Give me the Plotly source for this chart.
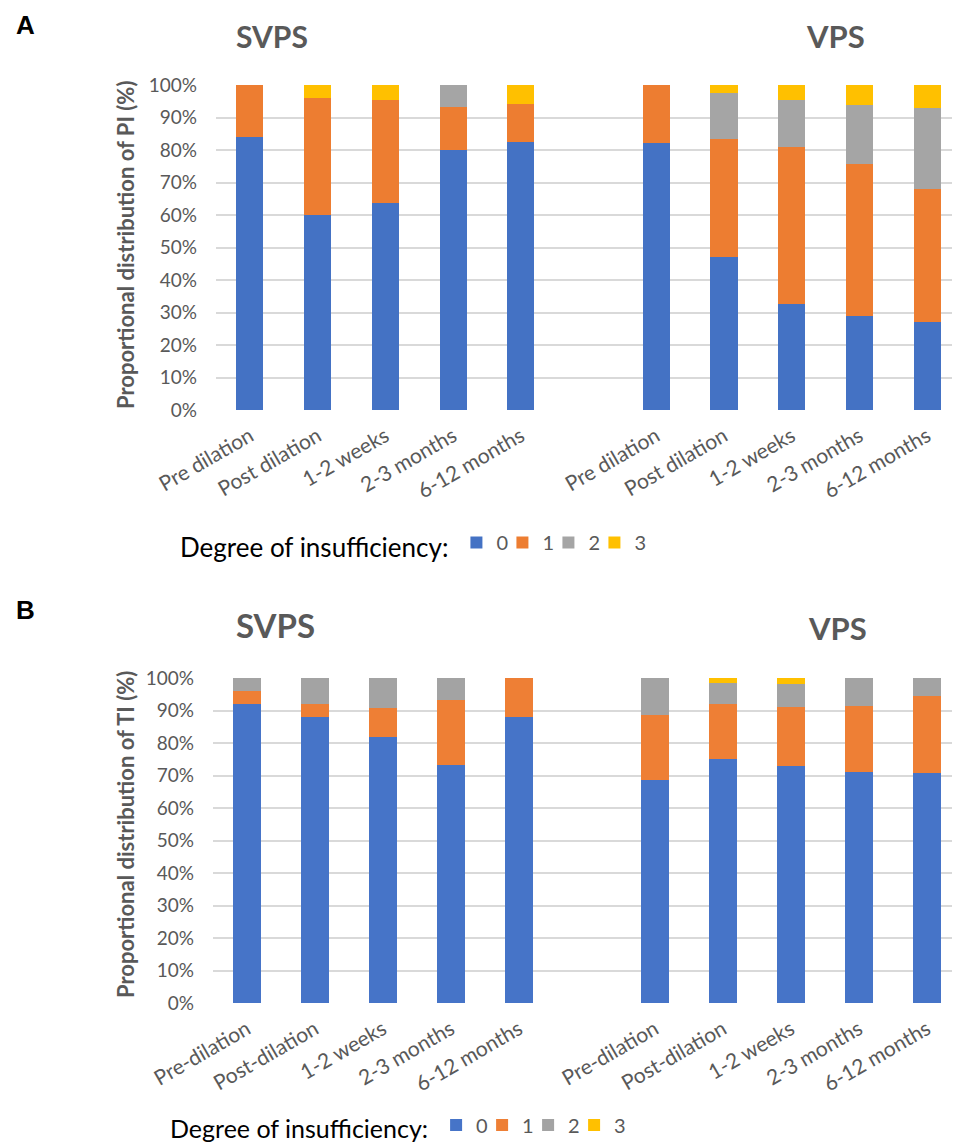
import plotly.graph_objects as go

# ---------------- data ----------------
stages_A = ["Pre dilation", "Post dilation", "1-2 weeks", "2-3 months", "6-12 months"]
stages_B = ["Pre-dilation", "Post-dilation", "1-2 weeks", "2-3 months", "6-12 months"]
degrees = ["0", "1", "2", "3"]

# Panel A: pulmonary insufficiency (%), SVPS and VPS
pi_svps_0 = [84.0, 60.0, 63.6, 80.0, 82.4]
pi_svps_1 = [16.0, 36.0, 31.9, 13.3, 11.8]
pi_svps_2 = [0.0, 0.0, 0.0, 6.7, 0.0]
pi_svps_3 = [0.0, 4.0, 4.5, 0.0, 5.8]

pi_vps_0 = [82.3, 47.0, 32.5, 28.8, 27.0]
pi_vps_1 = [17.7, 36.3, 48.5, 46.8, 41.0]
pi_vps_2 = [0.0, 14.1, 14.5, 18.4, 25.0]
pi_vps_3 = [0.0, 2.6, 4.5, 6.0, 7.0]

# Panel B: tricuspid insufficiency (%), SVPS and VPS
ti_svps_0 = [92.0, 88.0, 81.8, 73.3, 88.0]
ti_svps_1 = [4.0, 4.0, 9.1, 20.0, 12.0]
ti_svps_2 = [4.0, 8.0, 9.1, 6.7, 0.0]
ti_svps_3 = [0.0, 0.0, 0.0, 0.0, 0.0]

ti_vps_0 = [68.5, 75.0, 72.9, 71.1, 70.9]
ti_vps_1 = [20.0, 17.0, 18.3, 20.4, 23.6]
ti_vps_2 = [11.5, 6.5, 7.1, 8.5, 5.5]
ti_vps_3 = [0.0, 1.5, 1.7, 0.0, 0.0]

y_ticks = [0, 10, 20, 30, 40, 50, 60, 70, 80, 90, 100]
y_ticktext = [f"{v}%" for v in y_ticks]

colors = ["#4472C4", "#ED7D31", "#A5A5A5", "#FFC000"]
colors_B = ["#4674C8", "#EE7F35", "#A3A3A3", "#FFC000"]

FONT = "Lato"
GRAY = "#595959"

W, H = 960, 1148
OFF = 8  # page body margin

# category index positions: SVPS group, empty slot, VPS group
pos_svps = list(range(len(stages_A)))
pos_vps = [len(stages_A) + 1 + i for i in range(len(stages_A))]
tickvals = pos_svps + pos_vps

fig = go.Figure()

panelA = {
    "svps": [pi_svps_0, pi_svps_1, pi_svps_2, pi_svps_3],
    "vps": [pi_vps_0, pi_vps_1, pi_vps_2, pi_vps_3],
}
panelB = {
    "svps": [ti_svps_0, ti_svps_1, ti_svps_2, ti_svps_3],
    "vps": [ti_vps_0, ti_vps_1, ti_vps_2, ti_vps_3],
}

for k, d in enumerate(degrees):
    lw = 16 if k == len(degrees) - 1 else 1
    for g, (pos, vals) in enumerate([(pos_svps, panelA["svps"][k]), (pos_vps, panelA["vps"][k])]):
        fig.add_trace(go.Bar(
            x=pos, y=vals, name=d, marker=dict(color=colors[k], line=dict(width=0)),
            width=0.4, xaxis="x", yaxis="y", legend="legend", legendgroup="A" + d,
            showlegend=(g == 0), legendwidth=lw,
        ))
    for g, (pos, vals) in enumerate([(pos_svps, panelB["svps"][k]), (pos_vps, panelB["vps"][k])]):
        fig.add_trace(go.Bar(
            x=pos, y=vals, name=d, marker=dict(color=colors_B[k], line=dict(width=0)),
            width=0.4, xaxis="x2", yaxis="y2", legend="legend2", legendgroup="B" + d,
            showlegend=(g == 0), legendwidth=lw,
        ))

def px_x(p):
    return (p - OFF) / W

def px_y(p):
    return 1 - (p - OFF) / H

axis_common = dict(showgrid=False, zeroline=False, showline=False, ticks="",
                   tickangle=-30, tickfont=dict(family=FONT, size=21, color=GRAY),
                   tickvals=tickvals, range=[-0.5, 10.5], fixedrange=True,
                   automargin=False, ticklabelstandoff=9)
yaxis_common = dict(range=[0, 100], tickvals=y_ticks, ticktext=y_ticktext, showgrid=True,
                    gridcolor="#D9D9D9", gridwidth=1.5, zeroline=False, showline=False,
                    tickfont=dict(family=FONT, size=19, color=GRAY), ticklabelstandoff=18,
                    fixedrange=True, automargin=False)

legend_common = dict(orientation="h", xanchor="left", yanchor="middle",
                     font=dict(family=FONT, size=20, color=GRAY), itemwidth=30,
                     entrywidthmode="pixels", traceorder="normal",
                     bgcolor="rgba(0,0,0,0)", borderwidth=0)

fig.update_layout(
    width=W, height=H, barmode="stack", bargap=0,
    template="none",
    paper_bgcolor="white", plot_bgcolor="white",
    margin=dict(l=0, r=0, t=0, b=0, autoexpand=False),
    font=dict(family=FONT, color=GRAY),
    xaxis=dict(domain=[px_x(216), px_x(961)], anchor="y", ticktext=stages_A + stages_A, **axis_common),
    yaxis=dict(domain=[px_y(410), px_y(85)], anchor="x", **yaxis_common),
    xaxis2=dict(domain=[px_x(213), px_x(961)], anchor="y2", ticktext=stages_B + stages_B, **axis_common),
    yaxis2=dict(domain=[px_y(1003), px_y(678)], anchor="x2", **yaxis_common),
    legend=dict(x=px_x(178), y=px_y(545),
                title=dict(text="Degree of insufficiency:", font=dict(family=FONT, size=26, color="black"), side="left"),
                **legend_common),
    legend2=dict(x=px_x(168), y=px_y(1127),
                 title=dict(text="Degree of insufficiency:", font=dict(family=FONT, size=25, color="black"), side="left"),
                 **legend_common),
)

annotations = [
    dict(text="<b>A</b>", x=px_x(25), y=px_y(25), font=dict(family="Liberation Sans", size=26, color="black")),
    dict(text="<b>B</b>", x=px_x(25), y=px_y(610), font=dict(family="Liberation Sans", size=26, color="black")),
    dict(text="<b>SVPS</b>", x=px_x(272), y=px_y(36), font=dict(family=FONT, size=30, color=GRAY)),
    dict(text="<b>VPS</b>", x=px_x(835), y=px_y(36), font=dict(family=FONT, size=31, color=GRAY)),
    dict(text="<b>SVPS</b>", x=px_x(275), y=px_y(625), font=dict(family=FONT, size=33, color=GRAY)),
    dict(text="<b>VPS</b>", x=px_x(837), y=px_y(628), font=dict(family=FONT, size=31, color=GRAY)),
    dict(text="<b>Proportional distribution of PI (%)</b>", x=px_x(125), y=px_y(245), textangle=-90,
         font=dict(family=FONT, size=22, color=GRAY)),
    dict(text="<b>Proportional distribution of TI (%)</b>", x=px_x(125), y=px_y(835), textangle=-90,
         font=dict(family=FONT, size=22, color=GRAY)),
]
for a in annotations:
    a.update(xref="paper", yref="paper", showarrow=False, xanchor="center", yanchor="middle")
fig.update_layout(annotations=annotations)

fig.write_html("out.html")
